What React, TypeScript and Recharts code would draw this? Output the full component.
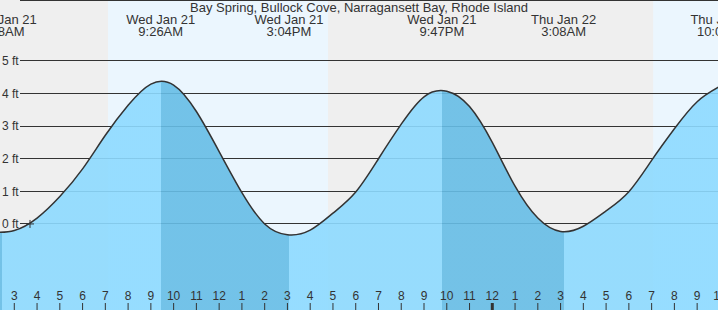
import React from 'react';
import { AreaChart, Area, XAxis, YAxis, CartesianGrid, ReferenceArea, ReferenceLine, ReferenceDot } from 'recharts';

// times are hours after midnight, Wed Jan 21; heights in feet
const hours = [2, 3, 4, 5, 6, 7, 8, 9, 10, 11, 12, 13, 14, 15, 16, 17, 18, 19, 20, 21, 22, 23, 24, 25, 26, 27, 28, 29, 30, 31, 32, 33, 34];
const heights = [-0.26, -0.2, 0.18, 0.84, 1.69, 2.72, 3.64, 4.29, 4.26, 3.45, 2.22, 0.96, 0.0, -0.33, -0.19, 0.33, 0.98, 2.0, 3.06, 3.9, 4.07, 3.6, 2.5, 1.16, 0.18, -0.23, -0.07, 0.4, 0.99, 1.95, 2.92, 3.75, 4.22];

// high / low water
const extremeTimes = [2.467, 9.433, 15.067, 21.783, 27.133, 34.133];
const extremeHeights = [-0.27, 4.36, -0.34, 4.08, -0.25, 4.24];
const extremeDays = ['Wed Jan 21', 'Wed Jan 21', 'Wed Jan 21', 'Wed Jan 21', 'Thu Jan 22', 'Thu Jan 22'];
const extremeClock = ['2:28AM', '9:26AM', '3:04PM', '9:47PM', '3:08AM', '10:08AM'];

const sunrises = [7.117, 31.067];
const sunsets = [16.783, 40.8];

const hourTicks = [3, 4, 5, 6, 7, 8, 9, 10, 11, 12, 13, 14, 15, 16, 17, 18, 19, 20, 21, 22, 23, 24, 25, 26, 27, 28, 29, 30, 31, 32, 33, 34];
const feetTicks = [0, 1, 2, 3, 4, 5];

const nowTime = 3.69;
const nowHeight = 0;

const viewStart = 2.372;
const viewEnd = 33.916;

const TITLE = 'Bay Spring, Bullock Cove, Narragansett Bay, Rhode Island';
const FONT = "'Liberation Sans', Arial, sans-serif";
const INK = '#333';
const RISING = '#8ddaff';
const FALLING = '#66bde6';

const data = hours.map((t, i) => ({ t, ft: heights[i] }));

// hard-edged gradient: falling tide darker, rising tide lighter
const tStart = hours[0];
const tEnd = hours[hours.length - 1];
const frac = (t: number) => Math.min(1, Math.max(0, (t - tStart) / (tEnd - tStart)));
const stops: { offset: number; color: string }[] = [];
let prev = tStart;
extremeTimes.forEach((t, i) => {
  const color = extremeHeights[i] > 2 ? RISING : FALLING;
  stops.push({ offset: frac(prev), color });
  stops.push({ offset: frac(t), color });
  prev = t;
});

const XTick = (props: any) => {
  const { x, payload } = props;
  const h = payload.value;
  const label = String(h % 12 === 0 ? 12 : h % 12);
  return (
    <g>
      <text x={x} y={300} textAnchor="middle" fontSize={12} fontFamily={FONT} fill={INK}>{label}</text>
      <line x1={x} x2={x} y1={303} y2={310} stroke={INK} strokeWidth={h % 24 === 0 ? 3 : 1} />
    </g>
  );
};

const YTick = (props: any) => (
  <text x={2} y={props.y} dy="0.35em" fontSize={12} fontFamily={FONT} fill={INK}>
    {props.payload.value} ft
  </text>
);

const gridLine = (p: any) => (
  <line key={p.key} x1={p.x1 + 20} y1={p.y1} x2={p.x2} y2={p.y2} stroke={INK} strokeWidth={1} shapeRendering="crispEdges" />
);

const extremeLabel = (day: string, clock: string) => (props: any) => {
  const cx = props.viewBox.x;
  return (
    <text textAnchor="middle" fontSize={13} fontFamily={FONT} fill={INK}>
      <tspan x={cx} y={24}>{day}</tspan>
      <tspan x={cx} y={36}>{clock}</tspan>
    </text>
  );
};

const Cross = (props: any) => {
  const { cx, cy } = props;
  return (
    <g>
      <line x1={cx - 4} x2={cx + 4} y1={cy} y2={cy} stroke={INK} strokeWidth={1} />
      <line x1={cx} x2={cx} y1={cy - 4} y2={cy + 4} stroke={INK} strokeWidth={1} />
    </g>
  );
};

export default function App() {
  return (
    <div style={{ position: 'absolute', left: 0, top: 0, width: 718, height: 310, overflow: 'hidden', background: '#efefef' }}>
      <AreaChart width={718} height={310} data={data} margin={{ top: 0, right: 0, bottom: 0, left: 0 }}>
        <defs>
          <linearGradient id="tideFill" x1="0" y1="0" x2="1" y2="0">
            {stops.map((s, i) => (
              <stop key={i} offset={s.offset} stopColor={s.color} />
            ))}
          </linearGradient>
        </defs>
        {sunrises.map((sr, i) => (
          <ReferenceArea key={i} x1={sr} x2={sunsets[i]} fill="#ebf6fe" fillOpacity={1} stroke="none" ifOverflow="hidden" zIndex={-150} />
        ))}
        <CartesianGrid vertical={false} horizontal={gridLine} />
        <XAxis
          type="number"
          dataKey="t"
          domain={[viewStart, viewEnd]}
          allowDataOverflow
          ticks={hourTicks}
          interval={0}
          mirror
          axisLine={false}
          tickLine={false}
          tick={XTick}
        />
        <YAxis
          type="number"
          domain={[-2.64, 6.87]}
          allowDataOverflow
          ticks={feetTicks}
          interval={0}
          mirror
          axisLine={false}
          tickLine={false}
          tick={YTick}
        />
        <Area
          type="natural"
          dataKey="ft"
          stroke={INK}
          strokeWidth={1.5}
          fill="url(#tideFill)"
          fillOpacity={0.9}
          baseValue="dataMin"
          dot={false}
          activeDot={false}
          isAnimationActive={false}
        />
        {extremeTimes.map((t, i) => (
          <ReferenceLine key={t} x={t} stroke="none" ifOverflow="visible" label={extremeLabel(extremeDays[i], extremeClock[i])} />
        ))}
        <ReferenceDot x={nowTime} y={nowHeight} r={4} shape={Cross} ifOverflow="visible" />
      </AreaChart>
      <svg width={718} height={40} style={{ position: 'absolute', left: 0, top: 0, pointerEvents: 'none' }}>
        <text x={359} y={12} textAnchor="middle" fontSize={13} fontFamily={FONT} fill={INK}>{TITLE}</text>
      </svg>
    </div>
  );
}
